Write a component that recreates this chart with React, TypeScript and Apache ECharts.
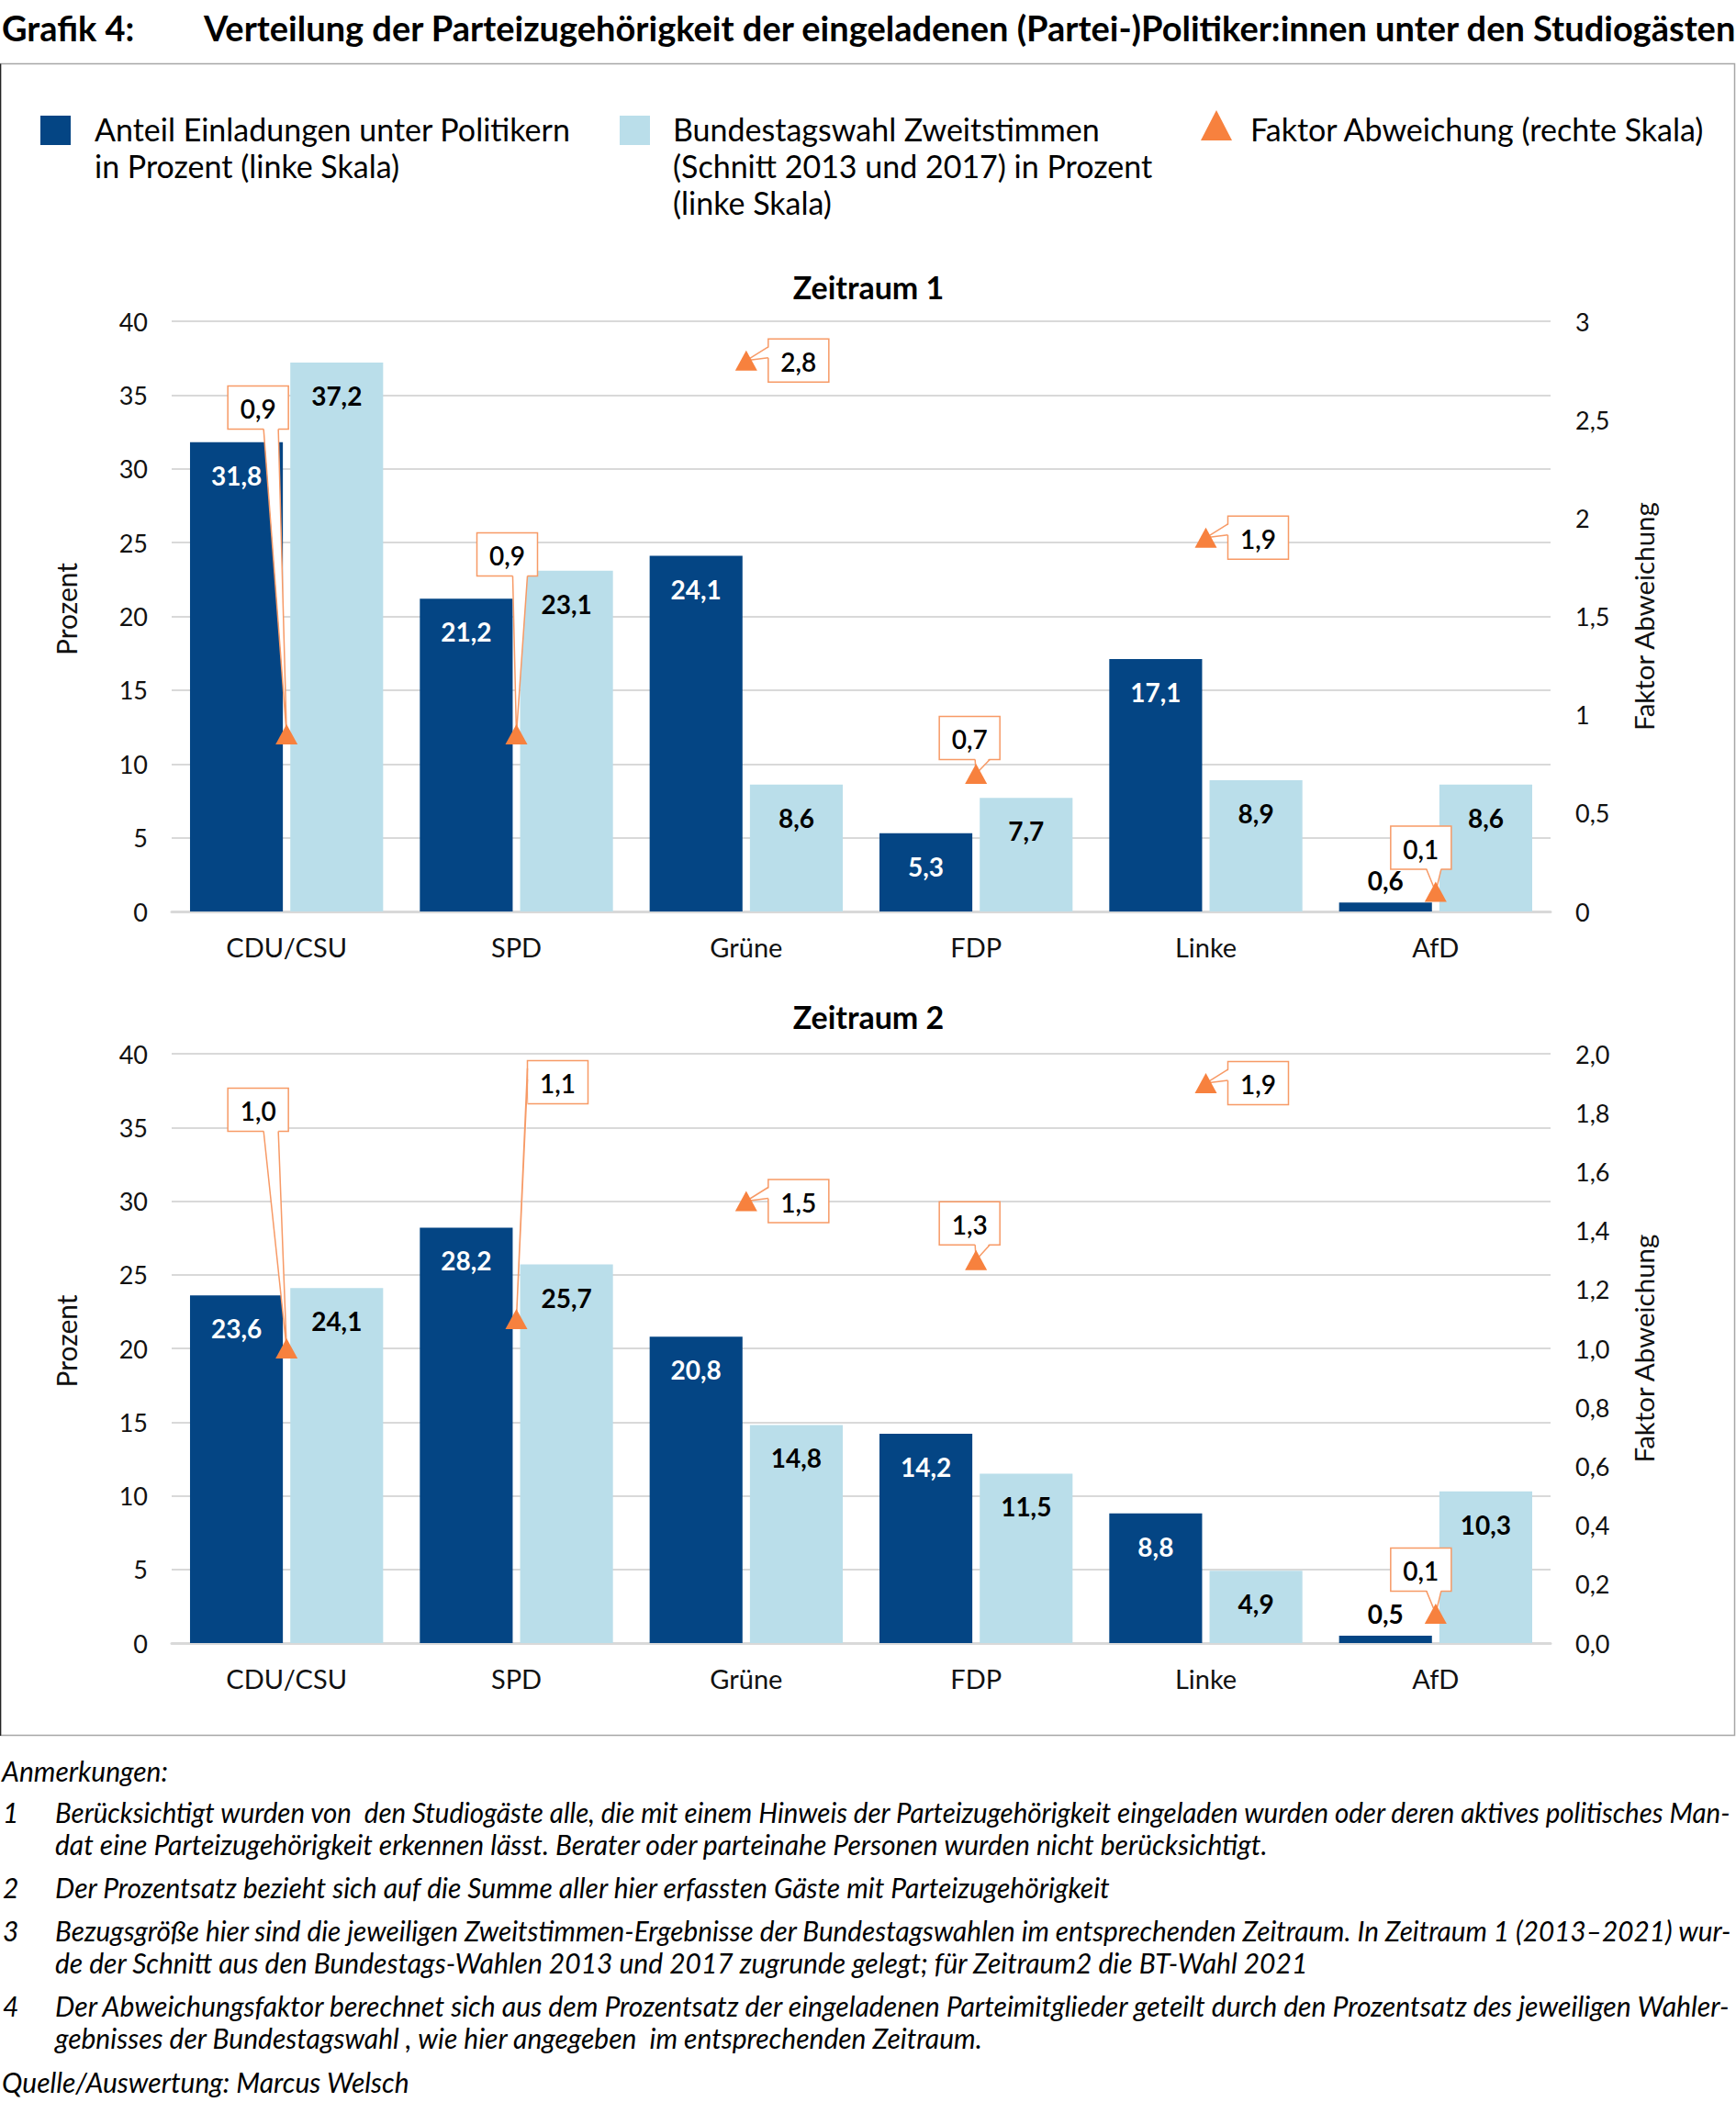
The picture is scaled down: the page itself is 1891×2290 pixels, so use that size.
import React, { useEffect, useRef } from 'react';
import * as echarts from 'echarts';

const categories = ['CDU/CSU', 'SPD', 'Grüne', 'FDP', 'Linke', 'AfD'];
const einladungen1 = [31.8, 21.2, 24.1, 5.3, 17.1, 0.6];
const zweitstimmen1 = [37.2, 23.1, 8.6, 7.7, 8.9, 8.6];
const faktor1 = [0.9, 0.9, 2.8, 0.7, 1.9, 0.1];
const einladungen2 = [23.6, 28.2, 20.8, 14.2, 8.8, 0.5];
const zweitstimmen2 = [24.1, 25.7, 14.8, 11.5, 4.9, 10.3];
const faktor2 = [1.0, 1.1, 1.5, 1.3, 1.9, 0.1];

// callout box offsets (pixels, box centre relative to marker) – layout only
const callout1 = [[-31, -356], [-10, -196], [57, 0], [-7, -39], [57, 0], [-16, -48]];
const callout2 = [[-31, -260], [45, -258], [57, 0], [-7, -40], [57, 0], [-16, -48]];

const legendLabels = [
  ['Anteil Einladungen unter Politikern', 'in Prozent (linke Skala)'],
  ['Bundestagswahl Zweitstimmen', '(Schnitt 2013 und 2017) in Prozent', '(linke Skala)'],
  ['Faktor Abweichung (rechte Skala)'],
];

// [number, lines, is first line justified]
const notes: [string, string[], boolean][] = [
  ['1', ['Berücksichtigt wurden von  den Studiogäste alle, die mit einem Hinweis der Parteizugehörigkeit eingeladen wurden oder deren aktives politisches Man-', 'dat eine Parteizugehörigkeit erkennen lässt. Berater oder parteinahe Personen wurden nicht berücksichtigt.'], true],
  ['2', ['Der Prozentsatz bezieht sich auf die Summe aller hier erfassten Gäste mit Parteizugehörigkeit'], false],
  ['3', ['Bezugsgröße hier sind die jeweiligen Zweitstimmen-Ergebnisse der Bundestagswahlen im entsprechenden Zeitraum. In Zeitraum 1 (2013–2021) wur-', 'de der Schnitt aus den Bundestags-Wahlen 2013 und 2017 zugrunde gelegt; für Zeitraum2 die BT-Wahl 2021'], true],
  ['4', ['Der Abweichungsfaktor berechnet sich aus dem Prozentsatz der eingeladenen Parteimitglieder geteilt durch den Prozentsatz des jeweiligen Wahler-', 'gebnisses der Bundestagswahl , wie hier angegeben  im entsprechenden Zeitraum.'], true],
];

const DARK = '#044584';
const LIGHT = '#BADEEA';
const ORANGE = '#F7813E';
const CALLOUT = '#F79A66';
const GRID = '#D9D9D9';
const TXT = '#111111';
const FONT = 'Lato';

const fmt = (v: number) => String(Math.round(v * 10) / 10).replace('.', ',');
const fmt1 = (v: number) => v.toFixed(1).replace('.', ',');

function barData(values: number[], insideColor: string) {
  return values.map((v) =>
    v < 3
      ? { value: v, label: { position: 'top', distance: 10, color: '#000' } }
      : { value: v, label: { color: insideColor } }
  );
}

function barSeries(name: string, values: number[], color: string, labelColor: string, gi: number) {
  return {
    type: 'bar',
    name,
    xAxisIndex: gi,
    yAxisIndex: gi * 2,
    data: barData(values, labelColor),
    barWidth: '40.4%',
    barGap: '8%',
    itemStyle: { color },
    label: {
      show: true,
      position: 'insideTop',
      distance: 22,
      fontFamily: FONT,
      fontSize: 28,
      fontWeight: 'bold',
      formatter: (p: any) => fmt1(p.value),
    },
  };
}

function factorSeries(values: number[], offsets: number[][], gi: number) {
  return {
    type: 'custom',
    name: 'Faktor Abweichung',
    xAxisIndex: gi,
    yAxisIndex: gi * 2 + 1,
    z: 10,
    data: values.map((v, i) => [i, v]),
    renderItem: (params: any, api: any) => {
      const i = params.dataIndex;
      const val = api.value(1);
      const p = api.coord([api.value(0), val]);
      const [dx, dy] = offsets[i];
      const w = 66;
      const h = 47;
      const cx = p[0] + dx;
      const cy = p[1] + dy;
      const l = cx - w / 2;
      const t = cy - h / 2;
      let b1: number[], b2: number[], c1: number[], c2: number[];
      if (dx > w / 2) {
        b1 = [l, cy - 15];
        b2 = [l, cy - 3];
        c1 = [l + 2, cy - 15];
        c2 = [l + 2, cy - 3];
      } else {
        const s = p[0] >= cx ? 1 : -1;
        const bc = cx + s * 14;
        b1 = [bc - 8, t + h];
        b2 = [bc + 8, t + h];
        c1 = [bc - 8, t + h - 2];
        c2 = [bc + 8, t + h - 2];
      }
      const tip = [p[0], p[1]];
      return {
        type: 'group',
        children: [
          {
            type: 'rect',
            shape: { x: l, y: t, width: w, height: h },
            style: { fill: '#ffffff', stroke: CALLOUT, lineWidth: 1.5 },
          },
          {
            type: 'polygon',
            shape: { points: [c1, c2, tip] },
            style: { fill: '#ffffff', stroke: 'none' },
          },
          {
            type: 'polyline',
            shape: { points: [b1, tip, b2] },
            style: { fill: 'none', stroke: CALLOUT, lineWidth: 1.5 },
          },
          {
            type: 'text',
            style: {
              text: fmt1(val),
              x: cx,
              y: cy + 1,
              textAlign: 'center',
              textVerticalAlign: 'middle',
              align: 'center',
              verticalAlign: 'middle',
              font: `600 28px ${FONT}`,
              fill: '#000',
            },
          },
          {
            type: 'polygon',
            shape: { points: [[p[0], p[1] - 11], [p[0] - 12, p[1] + 11], [p[0] + 12, p[1] + 11]] },
            style: { fill: ORANGE },
          },
        ],
      };
    },
  };
}

function txt(text: string, x: number, y: number, font: string, align = 'left', fill = TXT, scaleX = 1) {
  return {
    type: 'text',
    x,
    y,
    scaleX,
    style: {
      text,
      x: 0,
      y: 0,
      font,
      fill,
      textAlign: align,
      align,
      textVerticalAlign: 'middle',
      verticalAlign: 'middle',
    },
  };
}

let measureCtx: CanvasRenderingContext2D | null = null;
function measure(text: string, font: string): number {
  try {
    if (!measureCtx) measureCtx = document.createElement('canvas').getContext('2d');
    if (!measureCtx) return 0;
    measureCtx.font = font;
    return measureCtx.measureText(text).width;
  } catch (e) {
    return 0;
  }
}

export default function App() {
  const ref = useRef<HTMLDivElement>(null);
  useEffect(() => {
    document.body.style.margin = '0';
    if (!ref.current) return;
    const chart = echarts.init(ref.current, undefined, { renderer: 'svg' });

    const xAxis = [0, 1].map((gi) => ({
      type: 'category',
      gridIndex: gi,
      data: categories,
      axisTick: { show: false },
      axisLine: { lineStyle: { color: GRID, width: 3 } },
      axisLabel: { color: TXT, fontFamily: FONT, fontSize: 29, margin: 24 },
    }));

    const leftAxis = (gi: number) => ({
      type: 'value',
      gridIndex: gi,
      position: 'left',
      min: 0,
      max: 40,
      interval: 5,
      name: 'Prozent',
      nameLocation: 'middle',
      nameGap: 100,
      nameRotate: 90,
      nameTextStyle: { color: TXT, fontFamily: FONT, fontSize: 30, padding: [0, 0, 0, 16] },
      axisLine: { show: false },
      axisTick: { show: false },
      axisLabel: { color: TXT, fontFamily: FONT, fontSize: 27, margin: 26 },
      splitLine: { lineStyle: { color: GRID, width: 2 } },
    });

    const rightAxis = (gi: number, max: number, interval: number, f: (v: number) => string) => ({
      type: 'value',
      gridIndex: gi,
      position: 'right',
      min: 0,
      max,
      interval,
      name: 'Faktor Abweichung',
      nameLocation: 'middle',
      nameGap: 86,
      nameRotate: 90,
      nameTextStyle: { color: TXT, fontFamily: FONT, fontSize: 29.5 },
      axisLine: { show: false },
      axisTick: { show: false },
      axisLabel: { color: TXT, fontFamily: FONT, fontSize: 27, margin: 27, formatter: f },
      splitLine: { show: false },
    });

    const graphics: any[] = [];
    // outer frame
    graphics.push({
      type: 'rect',
      shape: { x: 0.5, y: 69.5, width: 1889, height: 1821 },
      style: { fill: 'none', stroke: '#A6A6A6', lineWidth: 1.5 },
    });
    graphics.push({
      type: 'line',
      shape: { x1: 0.5, y1: 69.5, x2: 0.5, y2: 1891 },
      style: { stroke: '#222', lineWidth: 1.5 },
    });
    // main title
    const tf = `bold 38px ${FONT}`;
    graphics.push(txt('Grafik 4:', 2, 30, tf, 'left', '#000'));
    graphics.push(
      txt(
        'Verteilung der Parteizugehörigkeit der eingeladenen (Partei-)Politiker:innen unter den Studiogästen',
        222,
        30,
        tf,
        'left',
        '#000'
      )
    );
    // legend
    graphics.push({ type: 'rect', shape: { x: 44, y: 126, width: 33, height: 32 }, style: { fill: DARK } });
    graphics.push({ type: 'rect', shape: { x: 675, y: 126, width: 33, height: 32 }, style: { fill: LIGHT } });
    graphics.push({
      type: 'polygon',
      shape: { points: [[1325, 120], [1308, 153], [1342, 153]] },
      style: { fill: ORANGE },
    });
    const legendX = [103, 733, 1362];
    legendLabels.forEach((lines, k) => {
      lines.forEach((line, j) => {
        graphics.push(txt(line, legendX[k], 140 + j * 40, `34px ${FONT}`, 'left', '#000'));
      });
    });
    // subplot titles
    graphics.push(txt('Zeitraum 1', 946, 312, `bold 34px ${FONT}`, 'center', '#000'));
    graphics.push(txt('Zeitraum 2', 946, 1107, `bold 34px ${FONT}`, 'center', '#000'));
    // notes
    const nf = `italic 30px ${FONT}`;
    const justifyWidth = 1828;
    graphics.push(txt('Anmerkungen:', 2, 1929, nf, 'left', '#000'));
    let y = 1974;
    notes.forEach(([num, lines, just]) => {
      graphics.push(txt(num, 3, y, nf, 'left', '#000'));
      lines.forEach((line, j) => {
        let s = 1;
        if (just && j === 0) {
          const w = measure(line, nf);
          if (w > 0) s = justifyWidth / w;
        }
        graphics.push(txt(line, 60, y + j * 35, nf, 'left', '#000', s));
      });
      y += lines.length * 35 + 12;
    });
    graphics.push(txt('Quelle/Auswertung: Marcus Welsch', 2, 2268, nf, 'left', '#000'));

    const option = {
      animation: false,
      backgroundColor: '#ffffff',
      textStyle: { fontFamily: FONT },
      grid: [
        { left: 187, width: 1502, top: 350, height: 643 },
        { left: 187, width: 1502, top: 1148, height: 642 },
      ],
      xAxis,
      yAxis: [
        leftAxis(0),
        rightAxis(0, 3, 0.5, fmt),
        leftAxis(1),
        rightAxis(1, 2, 0.2, fmt1),
      ],
      series: [
        barSeries('Anteil Einladungen unter Politikern in Prozent (linke Skala)', einladungen1, DARK, '#ffffff', 0),
        barSeries('Bundestagswahl Zweitstimmen (Schnitt 2013 und 2017) in Prozent (linke Skala)', zweitstimmen1, LIGHT, '#000000', 0),
        factorSeries(faktor1, callout1, 0),
        barSeries('Anteil Einladungen unter Politikern in Prozent (linke Skala)', einladungen2, DARK, '#ffffff', 1),
        barSeries('Bundestagswahl Zweitstimmen (BT-Wahl 2021) in Prozent (linke Skala)', zweitstimmen2, LIGHT, '#000000', 1),
        factorSeries(faktor2, callout2, 1),
      ],
      graphic: graphics,
    };
    chart.setOption(option as any);
    return () => chart.dispose();
  }, []);
  return <div ref={ref} style={{ width: 1891, height: 2290 }} />;
}
